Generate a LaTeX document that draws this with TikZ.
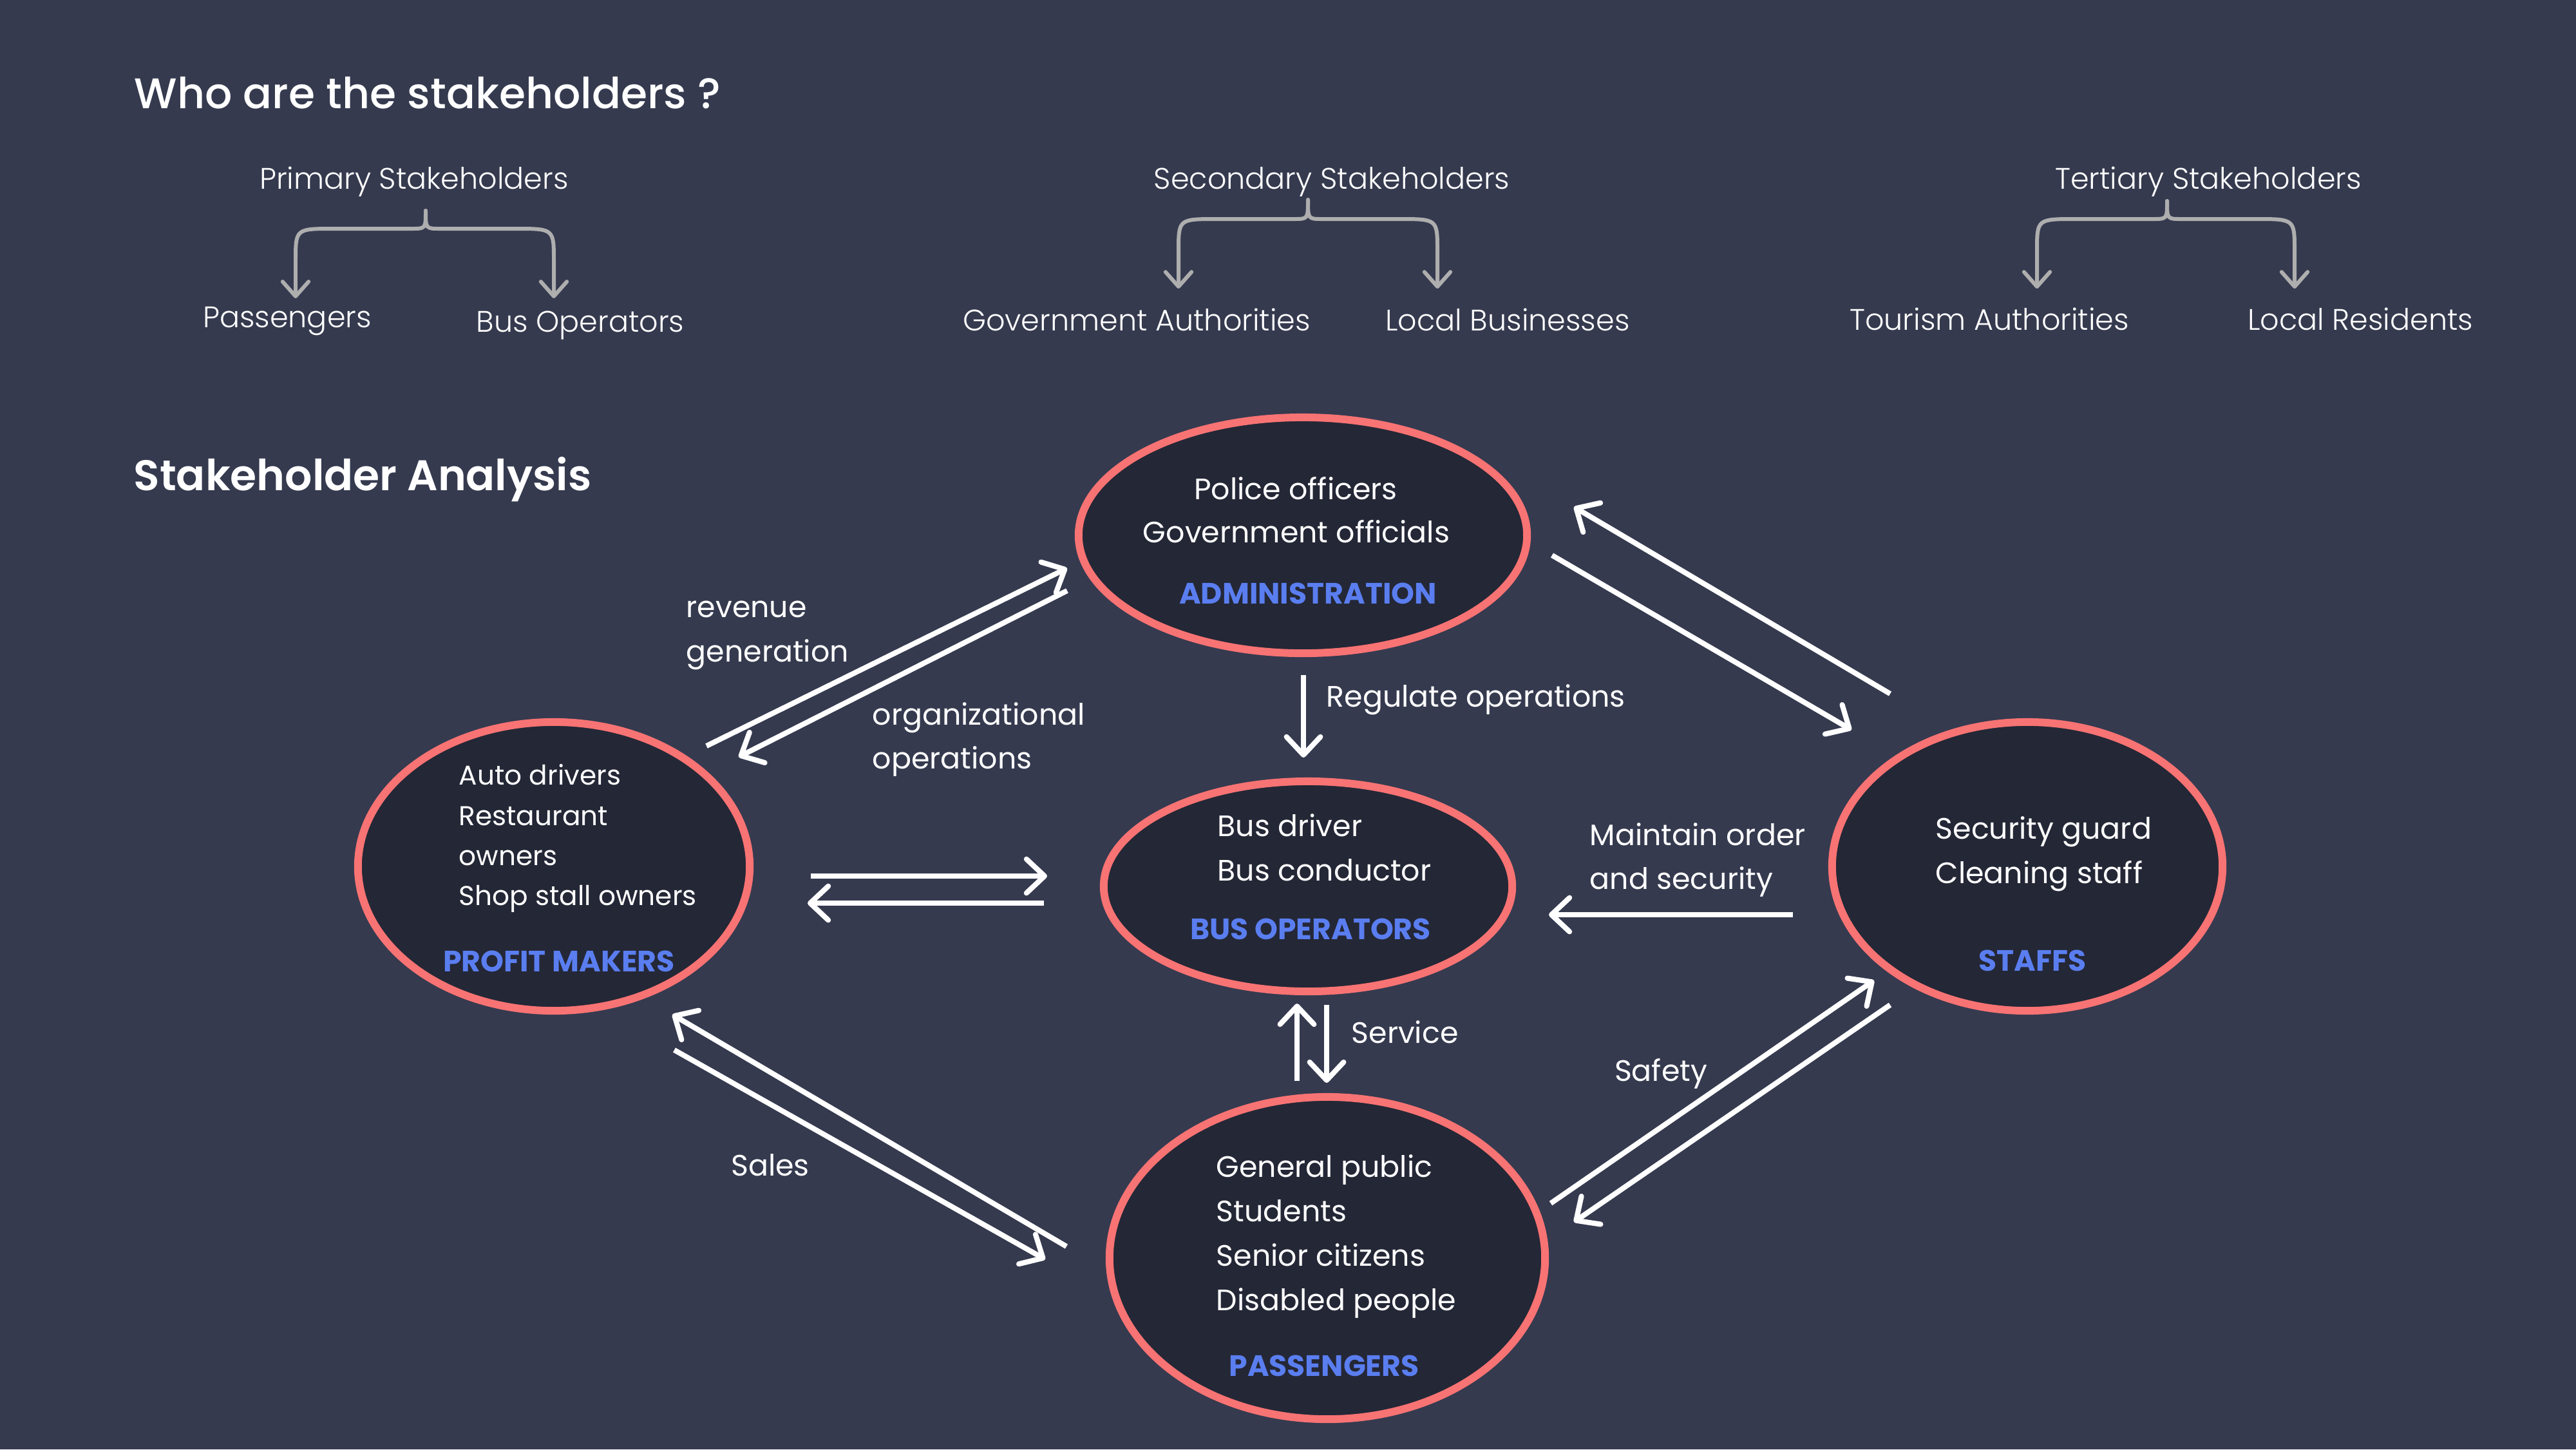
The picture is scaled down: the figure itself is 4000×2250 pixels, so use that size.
\documentclass[tikz,border=0pt]{standalone}
\usepackage{fontspec}
\setmainfont{Poppins}
\newfontfamily\plight{Poppins Light}
\newfontfamily\pmed{Poppins Medium}
\newfontfamily\psemi{Poppins SemiBold}
\newfontfamily\pbold{Poppins Bold}
\usetikzlibrary{arrows.meta,shapes.geometric}
\definecolor{bgc}{HTML}{353A4F}
\definecolor{ellfill}{HTML}{242736}
\definecolor{ellline}{HTML}{F87373}
\definecolor{blueL}{HTML}{5A7EF0}
\definecolor{grayA}{HTML}{AEAEAE}
\tikzset{
  ellnode/.style={ellipse, draw=ellline, fill=ellfill, line width=3.4pt, inner sep=0pt},
  wtxt/.style={text=white, inner sep=0pt, font=\fontsize{13.05pt}{15pt}\selectfont},
  ptxt/.style={text=white, inner sep=0pt, font=\fontsize{12pt}{14pt}\selectfont},
  btxt/.style={text=blueL, inner sep=0pt, font=\pbold\fontsize{13pt}{15pt}\selectfont},
  toptxt/.style={text=white, inner sep=0pt, font=\plight\fontsize{13.1pt}{15pt}\selectfont},
  warrow/.style={draw=white, line width=2.3pt, -{Straight Barb[length=8pt,width=15pt,round]}},
  garrow/.style={draw=grayA, line width=1.7pt, line cap=round, -{Straight Barb[length=6.5pt,width=11.5pt,round]}},
}
\newcommand\mybrace[7]{%
  \coordinate (#7top) at (#1,#2);
  \coordinate (#7l) at (#4,#6);
  \coordinate (#7r) at (#5,#6);
  \draw[garrow] (#7top) .. controls (#1,#3) .. (#1-22,#3) -- (#4+60,#3) .. controls (#4,#3) .. (#4,#3+50) -- (#7l);
  \draw[garrow] (#7top) .. controls (#1,#3) .. (#1+22,#3) -- (#5-60,#3) .. controls (#5,#3) .. (#5,#3+50) -- (#7r);
}
\begin{document}
\begin{tikzpicture}[x=0.01cm, y=-0.01cm]
\fill[bgc] (0,0) rectangle (4000,2250);
\useasboundingbox (0,0) rectangle (4000,2250);

% titles
\node[anchor=base west, text=white, inner sep=0pt, font=\pmed\fontsize{18.9pt}{23pt}\selectfont] (title) at (208,168) {Who are the stakeholders ?};
\node[anchor=base west, text=white, inner sep=0pt, font=\psemi\fontsize{18.9pt}{23pt}\selectfont] (title2) at (207,761) {Stakeholder Analysis};

% top categories
\node[toptxt, anchor=base] (prim) at (643,293) {Primary Stakeholders};
\node[toptxt, anchor=base] (prim1) at (446,508) {Passengers};
\node[toptxt, anchor=base] (prim2) at (901,515) {Bus Operators};
\node[toptxt, anchor=base] (sec) at (2068,293) {Secondary Stakeholders};
\node[toptxt, anchor=base] (sec1) at (1765,513) {Government Authorities};
\node[toptxt, anchor=base] (sec2) at (2341,513) {Local Businesses};
\node[toptxt, anchor=base] (ter) at (3429,293) {Tertiary Stakeholders};
\node[toptxt, anchor=base] (ter1) at (3089,512) {Tourism Authorities};
\node[toptxt, anchor=base] (ter2) at (3665,512) {Local Residents};

\mybrace{661}{327}{355}{459}{860}{463}{pb}
\mybrace{2031}{310}{340}{1830}{2232}{448}{sb}
\mybrace{3365}{312}{340}{3163}{3563}{448}{tb}

% ellipses
\node[ellnode, minimum width=6.96cm, minimum height=3.66cm] (admin) at (2023,831) {};
\node[ellnode, minimum width=6.08cm, minimum height=4.48cm] (profit) at (860,1345) {};
\node[ellnode, minimum width=6.34cm, minimum height=3.26cm] (bus) at (2031,1376) {};
\node[ellnode, minimum width=6.06cm, minimum height=4.48cm] (staffs) at (3148,1345) {};
\node[ellnode, minimum width=6.76cm, minimum height=5.00cm] (pass) at (2061,1953) {};

% admin text
\node[wtxt, anchor=base] (ad1) at (2012,775) {Police officers};
\node[wtxt, anchor=base] (ad2) at (2013,842) {Government officials};
\node[btxt, anchor=base] (ad3) at (2031,937) {ADMINISTRATION};

% profit text
\node[ptxt, anchor=base west] (pm1) at (712,1218) {Auto drivers};
\node[ptxt, anchor=base west] (pm2) at (712,1281) {Restaurant};
\node[ptxt, anchor=base west] (pm3) at (712,1343) {owners};
\node[ptxt, anchor=base west] (pm4) at (712,1405) {Shop stall owners};
\node[btxt, anchor=base] (pm5) at (868,1508) {PROFIT MAKERS};

% bus text
\node[wtxt, anchor=base west] (bo1) at (1890,1298) {Bus driver};
\node[wtxt, anchor=base west] (bo2) at (1890,1367) {Bus conductor};
\node[btxt, anchor=base] (bo3) at (2035,1458) {BUS OPERATORS};

% staffs text
\node[wtxt, anchor=base west] (st1) at (3005,1302) {Security guard};
\node[wtxt, anchor=base west] (st2) at (3005,1371) {Cleaning staff};
\node[btxt, anchor=base] (st3) at (3156,1507) {STAFFS};

% passengers text
\node[wtxt, anchor=base west] (pa1) at (1888,1827) {General public};
\node[wtxt, anchor=base west] (pa2) at (1888,1896) {Students};
\node[wtxt, anchor=base west] (pa3) at (1888,1965) {Senior citizens};
\node[wtxt, anchor=base west] (pa4) at (1888,2034) {Disabled people};
\node[btxt, anchor=base] (pa5) at (2056,2136) {PASSENGERS};

% connector labels
\node[wtxt, anchor=base west] (l1) at (1065,958) {revenue};
\node[wtxt, anchor=base west] (l2) at (1065,1027) {generation};
\node[wtxt, anchor=base west] (l3) at (1354,1125) {organizational};
\node[wtxt, anchor=base west] (l4) at (1354,1193) {operations};
\node[wtxt, anchor=base west] (l5) at (2059,1097) {Regulate operations};
\node[wtxt, anchor=base west] (l6) at (2468,1312) {Maintain order};
\node[wtxt, anchor=base west] (l7) at (2468,1380) {and security};
\node[wtxt, anchor=base west] (l8) at (2098,1619) {Service};
\node[wtxt, anchor=base] (l9) at (1196,1825) {Sales};
\node[wtxt, anchor=base] (l10) at (2579,1678) {Safety};

% connector coordinates
\coordinate (a1s) at (1097,1158); \coordinate (a1e) at (1657,882);
\coordinate (a2s) at (1657,917);  \coordinate (a2e) at (1147,1175);
\coordinate (c1s) at (2935,1077); \coordinate (c1e) at (2444,787);
\coordinate (c2s) at (2410,862);  \coordinate (c2e) at (2875,1133);
\coordinate (r1s) at (2024,1048); \coordinate (r1e) at (2024,1176);
\coordinate (f1s) at (1259,1360); \coordinate (f1e) at (1626,1360);
\coordinate (f2s) at (1621,1402); \coordinate (f2e) at (1254,1402);
\coordinate (m1s) at (2784,1420); \coordinate (m1e) at (2405,1420);
\coordinate (s1s) at (2014,1678); \coordinate (s1e) at (2014,1558);
\coordinate (s2s) at (2060,1560); \coordinate (s2e) at (2060,1681);
\coordinate (k1s) at (1656,1935); \coordinate (k1e) at (1044,1575);
\coordinate (k2s) at (1047,1630); \coordinate (k2e) at (1623,1955);
\coordinate (n1s) at (2408,1868); \coordinate (n1e) at (2910,1522);
\coordinate (n2s) at (2935,1560); \coordinate (n2e) at (2444,1897);

\foreach \p in {a1,a2,c1,c2,r1,f1,f2,m1,s1,s2,k1,k2,n1,n2}{
  \draw[warrow] (\p s) -- (\p e);
}
\end{tikzpicture}
\end{document}
